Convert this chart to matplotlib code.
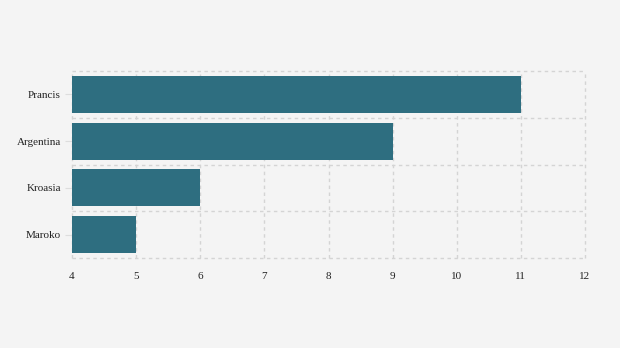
import matplotlib.pyplot as plt
from matplotlib.ticker import FixedLocator

# Data
countries = ['Prancis', 'Argentina', 'Kroasia', 'Maroko']
values = [11, 9, 6, 5]

plt.rcParams['font.family'] = ['Liberation Serif', 'DejaVu Serif']

fig = plt.figure(figsize=(6.2, 3.48), dpi=100, facecolor='#f4f4f4')
ax = fig.add_axes([72 / 620, 1 - 258 / 348, 513 / 620, 187 / 348])
ax.set_facecolor('#f4f4f4')

base = 4
ypos = list(range(len(countries)))
ax.barh(ypos, [v - base for v in values], left=base, height=0.79,
        color='#2e6e80', zorder=2)

ax.set_xlim(4, 12)
ax.set_ylim(len(countries) - 0.5, -0.5)
ax.set_xticks(range(4, 13))
ax.set_yticks(ypos)
ax.set_yticklabels(countries)
ax.yaxis.set_minor_locator(FixedLocator([i - 0.5 for i in range(len(countries) + 1)]))

ax.grid(axis='x', which='major', color='#d4d4d4', linestyle=(0, (2.5, 2.5)), linewidth=1, zorder=0)
ax.grid(axis='y', which='minor', color='#d4d4d4', linestyle=(0, (2.5, 2.5)), linewidth=1, zorder=0)
for gl in ax.get_xgridlines() + ax.yaxis.get_minorticklines():
    pass
for gl in ax.get_xgridlines():
    gl.set_clip_on(False)
for t in ax.yaxis.get_minor_ticks():
    t.gridline.set_clip_on(False)

for s in ax.spines.values():
    s.set_visible(False)

ax.tick_params(axis='x', length=0, pad=10, labelsize=8, colors='#222222')
ax.tick_params(axis='y', which='major', length=5, color='#dddddd', pad=3, labelsize=8, labelcolor='#222222')
ax.tick_params(axis='y', which='minor', length=0)

fig.savefig('out.png', dpi=100, facecolor='#f4f4f4')
